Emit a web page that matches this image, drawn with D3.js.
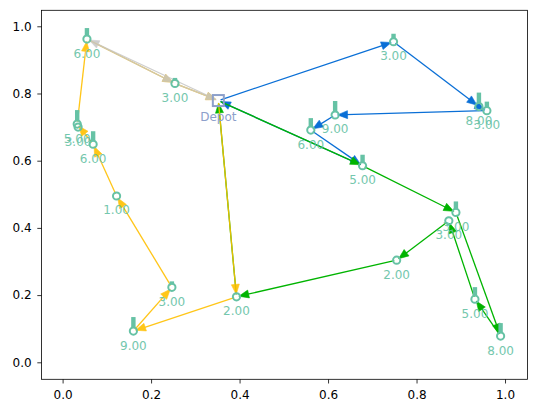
<!DOCTYPE html>
<html lang="en">
<head>
  <meta charset="UTF-8">
  <title>Vehicle routes</title>
  <script src="https://d3js.org/d3.v7.min.js"></script>
  <style>
    body { margin: 0; background: #fff; }
    text { font-family: "DejaVu Sans", sans-serif; }
  </style>
</head>
<body>
  <div class="canvas"></div>
  <script>
    // depot and customers (data coordinates)
    const depot = [0.352, 0.779];
    const custX = [0.055, 0.254, 0.033, 0.035, 0.069, 0.122, 0.247, 0.160, 0.393, 0.755,
                   0.889, 0.873, 0.932, 0.990, 0.748, 0.941, 0.959, 0.616, 0.561, 0.678];
    const custY = [0.962, 0.830, 0.709, 0.700, 0.649, 0.495, 0.223, 0.093, 0.195, 0.304,
                   0.446, 0.421, 0.188, 0.078, 0.954, 0.761, 0.749, 0.736, 0.691, 0.585];
    const demands = ["6.00", "3.00", "5.00", "3.00", "6.00", "1.00", "3.00", "9.00", "2.00", "2.00",
                     "3.00", "3.00", "5.00", "8.00", "3.00", "8.00", "3.00", "9.00", "6.00", "5.00"];
    // little bars drawn above each customer
    const barValues = [7, 1.5, 10, 0, 9, 0, 2, 10, 0, 0,
                       7, 0, 8, 9, 4, 10, 5, 10, 8, 7];

    // routes as customer indexes, depot at both ends
    const routeBlue = [14, 15, 16, 17, 18, 19];
    const routeGreen = [19, 10, 13, 12, 11, 9, 8];
    const routeYellow = [8, 7, 6, 5, 4, 2, 0, 1];
    const routeGrey = [0, 1];

    const xTicks = [0, 0.2, 0.4, 0.6, 0.8, 1.0];
    const yTicks = [0, 0.2, 0.4, 0.6, 0.8, 1.0];

    const svgWidth = 547;
    const svgHeight = 413;
    const margin = { top: 10.3, right: 19.5, bottom: 33.7, left: 41.5 };
    const graphWidth = svgWidth - margin.left - margin.right;
    const graphHeight = svgHeight - margin.top - margin.bottom;

    const svg = d3.select(".canvas")
      .append("svg")
      .attr("width", svgWidth)
      .attr("height", svgHeight);

    const graph = svg.append("g")
      .attr("transform", `translate(${margin.left}, ${margin.top})`);

    const x = d3.scaleLinear().domain([-0.0477, 1.0508]).range([0, graphWidth]);
    const y = d3.scaleLinear().domain([-0.0506, 1.0476]).range([graphHeight, 0]);
    const barScale = d3.scaleLinear().domain([0, 10]).range([0, 10]);

    const teal = "#66c2a5";
    const depotColor = "#8da0cb";

    // axes
    const xAxis = d3.axisBottom(x).tickValues(xTicks).tickFormat(d3.format(".1f"))
      .tickSizeInner(4.2).tickSizeOuter(0).tickPadding(7.2);
    const yAxis = d3.axisLeft(y).tickValues(yTicks).tickFormat(d3.format(".1f"))
      .tickSizeInner(4.2).tickSizeOuter(0).tickPadding(5.6);

    const xAxisGroup = graph.append("g").attr("transform", `translate(0, ${graphHeight})`).call(xAxis);
    const yAxisGroup = graph.append("g").call(yAxis);
    [xAxisGroup, yAxisGroup].forEach(g => {
      g.select(".domain").remove();
      g.selectAll("line").attr("stroke", "#000").attr("stroke-width", 0.8);
      g.selectAll("text").attr("font-size", "12px").attr("fill", "#000")
        .attr("font-family", "DejaVu Sans, sans-serif");
    });

    graph.append("rect")
      .attr("width", graphWidth)
      .attr("height", graphHeight)
      .attr("fill", "none")
      .attr("stroke", "#000")
      .attr("stroke-width", 0.8);

    const nodeX = i => i < 0 ? depot[0] : custX[i];
    const nodeY = i => i < 0 ? depot[1] : custY[i];

    // draw one route with arrows on every leg
    const drawRoute = (route, color, opacity) => {
      const stops = [-1, ...route, -1];
      const g = graph.append("g").attr("opacity", opacity);
      for (let k = 0; k < stops.length - 1; k++) {
        const x0 = x(nodeX(stops[k])), y0 = y(nodeY(stops[k]));
        const x1 = x(nodeX(stops[k + 1])), y1 = y(nodeY(stops[k + 1]));
        const len = Math.hypot(x1 - x0, y1 - y0);
        const ux = (x1 - x0) / len, uy = (y1 - y0) / len;
        const shrink = 2.4, headLen = 10, headW = 4;
        const tipX = x1 - ux * shrink, tipY = y1 - uy * shrink;
        const baseX = tipX - ux * headLen, baseY = tipY - uy * headLen;
        g.append("line")
          .attr("x1", x0 + ux * shrink).attr("y1", y0 + uy * shrink)
          .attr("x2", baseX + ux * 2).attr("y2", baseY + uy * 2)
          .attr("stroke", color)
          .attr("stroke-width", 1.3);
        g.append("path")
          .attr("d", `M${tipX},${tipY}L${baseX - uy * headW},${baseY + ux * headW}L${baseX + uy * headW},${baseY - ux * headW}Z`)
          .attr("fill", color)
          .attr("stroke", color)
          .attr("stroke-width", 0.6);
      }
    };

    drawRoute(routeBlue, "#0a6fd6", 1);
    drawRoute(routeGreen, "#00b400", 1);
    drawRoute(routeYellow, "#ffc000", 0.9);
    drawRoute(routeGrey, "#c6c6c6", 0.85);

    // customers
    const idx = d3.range(custX.length);

    graph.selectAll("rect.bar")
      .data(idx.filter(i => barValues[i] > 0))
      .enter()
      .append("rect")
      .attr("class", "bar")
      .attr("x", i => x(custX[i]) - 2.2)
      .attr("y", i => y(custY[i]) - 4 - barScale(barValues[i]))
      .attr("width", 4.4)
      .attr("height", i => barScale(barValues[i]) + 1)
      .attr("fill", teal);

    graph.selectAll("circle.cust")
      .data(idx)
      .enter()
      .append("circle")
      .attr("class", "cust")
      .attr("cx", i => x(custX[i]))
      .attr("cy", i => y(custY[i]))
      .attr("r", 3.6)
      .attr("fill", "none")
      .attr("stroke", teal)
      .attr("stroke-width", 2);

    graph.selectAll("text.demand")
      .data(idx)
      .enter()
      .append("text")
      .attr("class", "demand")
      .attr("x", i => x(custX[i]))
      .attr("y", i => y(custY[i]) + 18.5)
      .attr("text-anchor", "middle")
      .attr("font-size", "12px")
      .attr("fill", teal)
      .attr("opacity", 0.9)
      .text(i => demands[i]);

    // depot
    graph.append("rect")
      .attr("x", x(depot[0]) - 5.5)
      .attr("y", y(depot[1]) - 5.5)
      .attr("width", 11)
      .attr("height", 11)
      .attr("fill", "none")
      .attr("stroke", depotColor)
      .attr("stroke-width", 2);

    graph.append("text")
      .attr("x", x(depot[0]))
      .attr("y", y(depot[1]) + 20)
      .attr("text-anchor", "middle")
      .attr("font-size", "12px")
      .attr("fill", depotColor)
      .text("Depot");
  </script>
</body>
</html>
